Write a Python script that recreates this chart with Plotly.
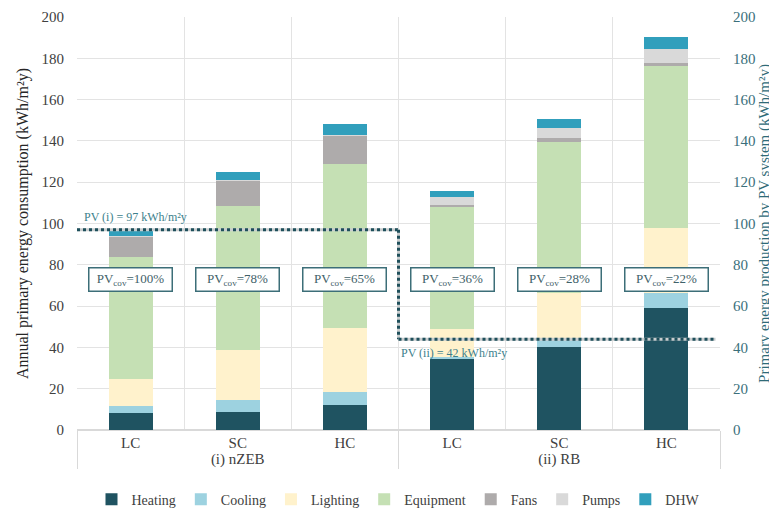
import plotly.graph_objects as go

groups = ["(i) nZEB"] * 3 + ["(ii) RB"] * 3
cases = ["LC", "SC", "HC", "LC", "SC", "HC"]

heating = [8.1, 8.9, 12.1, 34.4, 40.3, 58.9]
cooling = [3.7, 5.6, 6.4, 1.1, 4.2, 7.6]
lighting = [12.7, 24.2, 31.0, 13.3, 21.7, 31.2]
equipment = [59.1, 69.8, 79.1, 59.0, 73.4, 78.6]
fans = [10.0, 12.1, 13.8, 1.4, 1.6, 1.6]
pumps = [0.3, 0.3, 0.3, 3.8, 4.9, 6.5]
dhw = [3.0, 4.2, 5.5, 2.8, 4.4, 5.8]

series = [
    ("Heating", heating, "#1F5361"),
    ("Cooling", cooling, "#9DD2E0"),
    ("Lighting", lighting, "#FFF2CC"),
    ("Equipment", equipment, "#C5E0B4"),
    ("Fans", fans, "#AEABAB"),
    ("Pumps", pumps, "#D9D9D9"),
    ("DHW", dhw, "#319FBC"),
]

pv_cov = ["100%", "78%", "65%", "36%", "28%", "22%"]
pv_i = 97
pv_ii = 44
pv_i_label = "PV (i) = 97 kWh/m²y"
pv_ii_label = "PV (ii) = 42 kWh/m²y"

FONT = "'Liberation Serif', 'Times New Roman', serif"

fig = go.Figure()
for name, vals, col in series:
    fig.add_trace(go.Bar(
        x=[groups, cases], y=vals, name=name, width=0.41,
        marker=dict(color=col, line=dict(width=0)),
    ))

fig.add_trace(go.Scatter(x=[groups, cases], y=[None] * 6, yaxis="y2",
                         showlegend=False, hoverinfo="skip", mode="lines"))

for (x0, x1, y0, y1) in [(0, 0.5, pv_i, pv_i), (0.5, 0.5, pv_i, pv_ii), (0.5, 0.993, pv_ii, pv_ii)]:
    fig.add_shape(type="line", xref="paper", yref="y2", x0=x0, x1=x1, y0=y0, y1=y1,
                  line=dict(color="#C9CDCE", width=3))
    fig.add_shape(type="line", xref="paper", yref="y2", x0=x0, x1=x1, y0=y0, y1=y1,
                  line=dict(color="#1E4F5B", width=3, dash="dot"))

fig.add_annotation(xref="paper", yref="y2", x=0.008, y=pv_i + 2.0, text=pv_i_label,
                   showarrow=False, xanchor="left", yanchor="bottom",
                   font=dict(family=FONT, size=12, color="#3D7F8C"))
fig.add_annotation(xref="paper", yref="y2", x=0.5, y=pv_ii - 2.5, text=pv_ii_label,
                   showarrow=False, xanchor="left", yanchor="top",
                   font=dict(family=FONT, size=12, color="#3D7F8C"))

for i, c in enumerate(pv_cov):
    fig.add_annotation(xref="paper", yref="y", x=(i + 0.5) / 6, y=73,
                       xanchor="center", yanchor="middle",
                       text="PV<sub>cov</sub>=" + c, showarrow=False,
                       width=80, height=20, borderpad=1,
                       bordercolor="#3C6E78", borderwidth=1.5, bgcolor="white",
                       font=dict(family=FONT, size=13, color="#3F6169"))

fig.update_layout(
    width=769, height=500,
    barmode="stack",
    plot_bgcolor="white", paper_bgcolor="white",
    margin=dict(l=69, r=57, t=9, b=78, autoexpand=False),
    font=dict(family=FONT, size=14, color="#595959"),
    showlegend=True,
    legend=dict(orientation="h", x=0.5, xanchor="center", y=-0.13, yanchor="top",
                font=dict(family=FONT, size=14, color="#404040"),
                itemwidth=30, tracegroupgap=0, traceorder="normal"),
    xaxis=dict(type="multicategory", tickson="boundaries", showgrid=True,
               gridcolor="#E3E3E3", gridwidth=1, showline=False, zeroline=False,
               showdividers=True, dividercolor="#D9D9D9", dividerwidth=1,
               ticklabelstandoff=2,
               tickfont=dict(family=FONT, size=15, color="#404040"), ticks="",
               automargin=False),
    yaxis=dict(range=[0, 200], dtick=20, showgrid=True, gridcolor="#E3E3E3",
               zeroline=True, zerolinecolor="#D9D9D9", showline=False,
               ticklabelstandoff=12, automargin=False,
               tickfont=dict(family=FONT, size=15, color="#404040"),
               title=dict(text="Annual primary energy consumption (kWh/m²y)",
                          font=dict(family=FONT, size=16, color="#262626"), standoff=8)),
    yaxis2=dict(range=[0, 200], dtick=20, overlaying="y", side="right", showgrid=False,
                zeroline=False, showline=False, ticklabelstandoff=12, automargin=False,
                tickfont=dict(family=FONT, size=15, color="#3A6F7B"),
                title=dict(text="Primary energy production by PV system (kWh/m²y)",
                           font=dict(family=FONT, size=15, color="#2F6A77"), standoff=0)),
)

fig.write_html("out.html")
